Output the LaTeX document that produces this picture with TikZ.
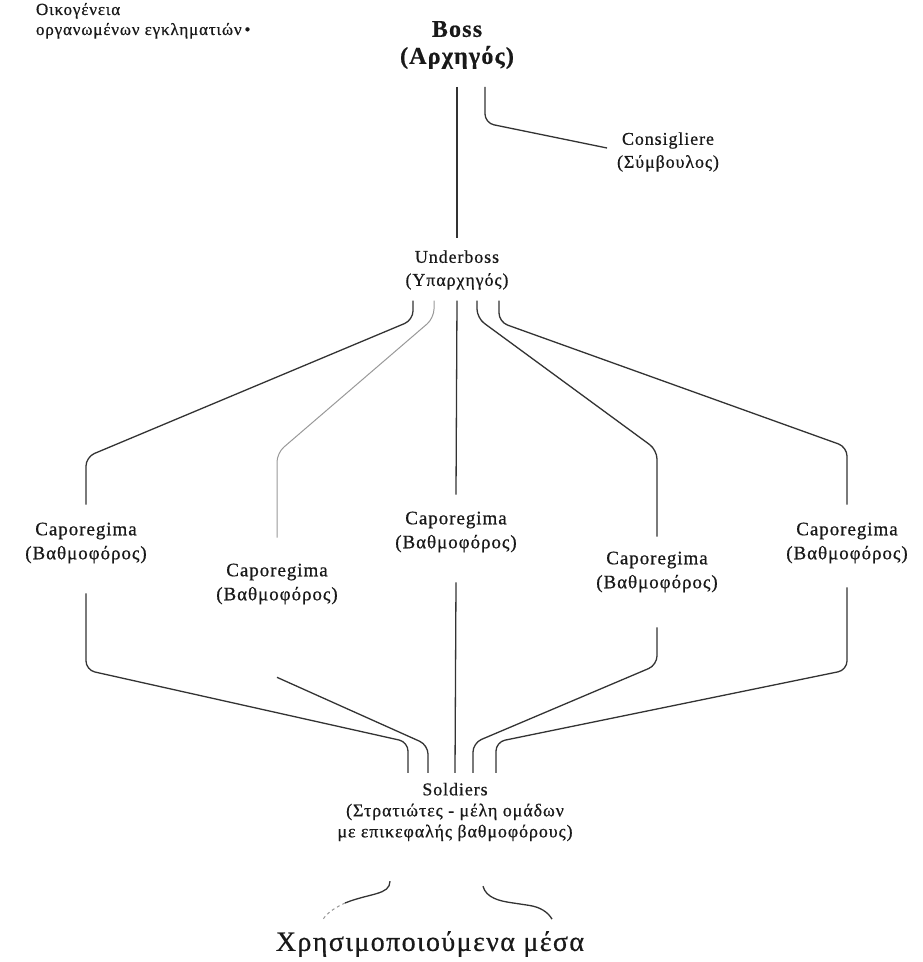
\documentclass[tikz,border=0pt]{standalone}
\usepackage{fontspec}
\setmainfont{Liberation Serif}
\newfontfamily\wide[LetterSpace=5,FakeBold=0.6]{Liberation Serif}

\begin{document}
\begin{tikzpicture}[x=1pt,y=-1pt,
  every node/.style={inner sep=0pt, outer sep=0pt, align=center, text=black!90},
  head/.style={font=\wide\fontsize{18}{23}\selectfont},
  rank/.style={font=\wide\fontsize{19}{24}\selectfont},
  link/.style={draw=black!80, line width=1.3pt, rounded corners=9pt},
  faint/.style={draw=black!40, line width=1pt, rounded corners=9pt}]
\useasboundingbox[fill=white] (0,0) rectangle (923,962);

\node[anchor=north west, align=left, font=\wide\fontsize{17}{20}\selectfont] (title) at (36,3) {Οικογένεια\\οργανωμένων εγκληματιών\,•};

\node[font=\wide\bfseries\fontsize{24}{27}\selectfont] (boss) at (457,45) {Boss\\(Αρχηγός)};
\node[head] (cons) at (668,152) {Consigliere\\(Σύμβουλος)};
\node[head] (ub) at (457,270) {Underboss\\(Υπαρχηγός)};

\node[rank] (cap1) at (86,543) {Caporegima\\(Βαθμοφόρος)};
\node[rank] (cap2) at (277,584) {Caporegima\\(Βαθμοφόρος)};
\node[rank] (cap3) at (456,532) {Caporegima\\(Βαθμοφόρος)};
\node[rank] (cap4) at (657,572) {Caporegima\\(Βαθμοφόρος)};
\node[rank] (cap5) at (847,543) {Caporegima\\(Βαθμοφόρος)};

\node[font=\wide\fontsize{18}{21}\selectfont] (sold) at (455,812) {Soldiers\\(Στρατιώτες - μέλη ομάδων\\με επικεφαλής βαθμοφόρους)};
\node[font=\wide\fontsize{28}{30}\selectfont] (mesa) at (430,944) {Χρησιμοποιούμενα μέσα};

\draw[link] ([yshift=-18pt]boss.south) -- ([yshift=12pt]ub.north);
\draw[link] ([xshift=28pt,yshift=-18pt]boss.south) -- (485,123) -- ([xshift=-10pt,yshift=4pt]cons.west);

\draw[link] ([xshift=-44pt,yshift=-11pt]ub.south) -- (413,320) -- (86,457) -- ([yshift=18pt]cap1.north);
\draw[faint] ([xshift=-23pt,yshift=-11pt]ub.south) -- (434,318) -- (277,453) -- ([yshift=26pt]cap2.north);
\draw[link] ([yshift=-11pt]ub.south) -- ([yshift=17pt]cap3.north);
\draw[link] ([xshift=20pt,yshift=-11pt]ub.south) -- (477,318) -- (657,450) -- ([yshift=15pt]cap4.north);
\draw[link] ([xshift=42pt,yshift=-11pt]ub.south) -- (499,322) -- (847,447) -- ([yshift=18pt]cap5.north);

\draw[link] ([yshift=-30pt]cap1.south) -- (86,670) -- (408,742) -- ([xshift=-47pt,yshift=10pt]sold.north);
\draw[link] ([yshift=-73pt]cap2.south) -- (428,745) -- ([xshift=-27pt,yshift=10pt]sold.north);
\draw[link] ([yshift=-30pt]cap3.south) -- ([yshift=10pt]sold.north);
\draw[link] ([yshift=-35pt]cap4.south) -- (657,665) -- (473,743) -- ([xshift=18pt,yshift=10pt]sold.north);
\draw[link] ([yshift=-24pt]cap5.south) -- (847,670) -- (496,742) -- ([xshift=41pt,yshift=10pt]sold.north);

\draw[link] ([xshift=-65pt,yshift=-40pt]sold.south) .. controls (390,895) and (370,893) .. (345,903);
\draw[faint, dashed] (345,903) .. controls (332,909) and (325,915) .. ([xshift=-108pt,yshift=10pt]mesa.north);
\draw[link] ([xshift=28pt,yshift=-45pt]sold.south) .. controls (486,898) and (500,901) .. (520,904) .. controls (540,907) and (548,912) .. ([xshift=122pt,yshift=12pt]mesa.north);
\end{tikzpicture}
\end{document}
